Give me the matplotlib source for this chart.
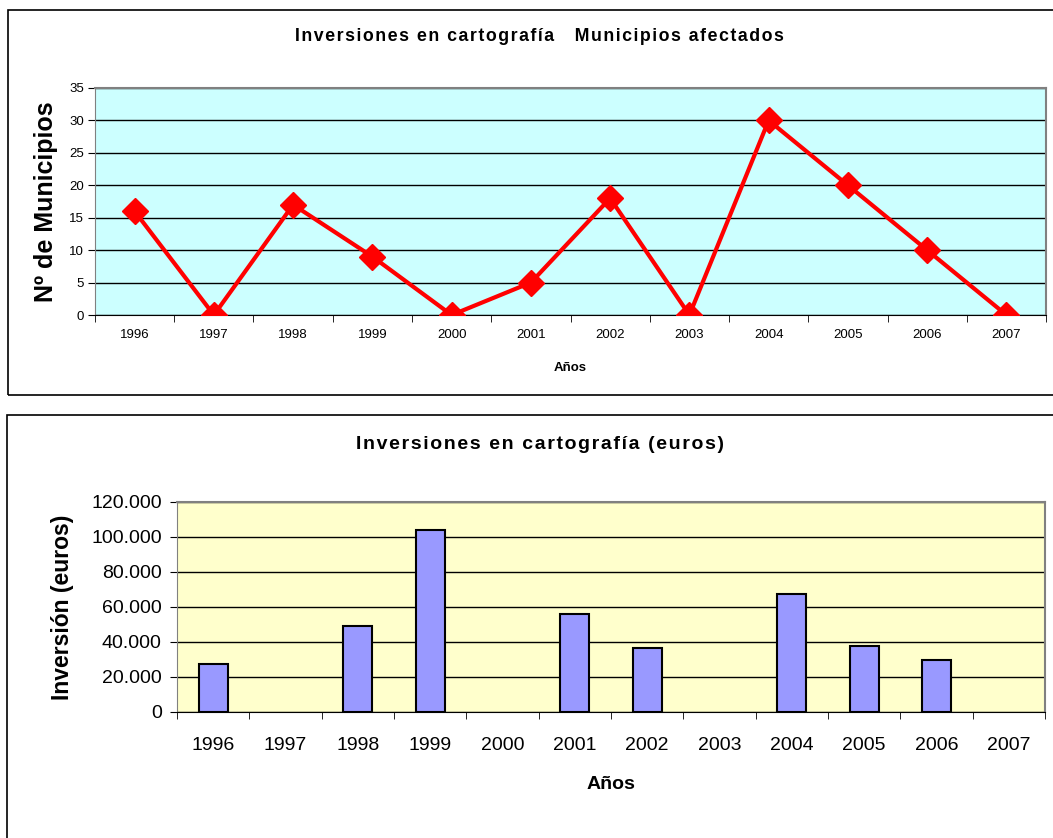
import matplotlib.pyplot as plt
from matplotlib.patches import Rectangle
from matplotlib.ticker import FuncFormatter, FixedLocator, NullFormatter
import numpy as np

plt.rcParams['font.family'] = ['Liberation Sans', 'DejaVu Sans']

# datos
anios = ['1996', '1997', '1998', '1999', '2000', '2001',
         '2002', '2003', '2004', '2005', '2006', '2007']
municipios = [16, 0, 17, 9, 0, 5, 18, 0, 30, 20, 10, 0]
inversion = [27600, 0, 49100, 104000, 0, 56000,
             36700, 0, 67400, 37900, 29900, 0]

fig = plt.figure(figsize=(10.53, 8.38), dpi=100)

# marcos de cada grafico
fig.patches.append(Rectangle((0.0076, 0.5286), 1.1, 0.4594, transform=fig.transFigure,
                             fill=False, edgecolor='black', linewidth=1.2))
fig.patches.append(Rectangle((0.0066, -0.1), 1.1, 0.6048, transform=fig.transFigure,
                             fill=False, edgecolor='black', linewidth=1.2))

x = np.arange(len(anios))

def espaciado(t):
    # separa un poco las letras, como en el original
    return '\u200a'.join(t)

def estilo_ejes(ax, bg):
    ax.set_facecolor(bg)
    ax.set_xlim(-0.5, len(anios) - 0.5)
    ax.xaxis.set_major_locator(FixedLocator(x))
    ax.set_xticklabels(anios)
    ax.tick_params(axis='x', which='major', length=0)
    ax.xaxis.set_minor_locator(FixedLocator(np.arange(-0.5, len(anios), 1)))
    ax.xaxis.set_minor_formatter(NullFormatter())
    ax.tick_params(axis='x', which='minor', length=5, direction='out', color='black')
    ax.tick_params(axis='y', length=5, direction='out')
    ax.grid(axis='y', color='black', linewidth=1)
    ax.set_axisbelow(True)
    for s in ['top', 'right']:
        ax.spines[s].set_color('#808080')
        ax.spines[s].set_linewidth(1.5)
    ax.spines['left'].set_color('#808080')
    ax.spines['bottom'].set_color('black')

# grafico de lineas
ax1 = fig.add_axes([0.0902, 0.6241, 0.9032, 0.2709])
estilo_ejes(ax1, '#CCFFFF')
ax1.plot(x, municipios, color='red', linewidth=3, marker='D', markersize=13, zorder=3)
ax1.set_ylim(0, 35)
ax1.set_yticks(range(0, 36, 5))
ax1.tick_params(axis='y', labelsize=9.5, pad=3)
ax1.tick_params(axis='x', labelsize=9.5, pad=10)
ax1.set_ylabel('Nº de Municipios', fontsize=18, fontweight='bold', labelpad=8)
ax1.set_xlabel('Años', fontsize=9.5, fontweight='bold', labelpad=15)
fig.text(0.512, 0.957, espaciado('Inversiones en cartografía   Municipios afectados'),
         ha='center', va='center', fontsize=12.8, fontweight='bold')

# grafico de barras
ax2 = fig.add_axes([0.1681, 0.1504, 0.8243, 0.2506])
estilo_ejes(ax2, '#FFFFCC')
ax2.bar(x, inversion, width=0.4, color='#9999FF', edgecolor='black',
        linewidth=[1.5 if v > 0 else 0 for v in inversion], zorder=3)
ax2.set_ylim(0, 120000)
ax2.set_yticks(range(0, 120001, 20000))
ax2.yaxis.set_major_formatter(FuncFormatter(lambda v, p: f'{int(v):,}'.replace(',', '.')))
ax2.tick_params(axis='y', labelsize=14, pad=6)
ax2.tick_params(axis='x', labelsize=14, pad=18)
ax2.set_ylabel('Inversión (euros)', fontsize=16.5, fontweight='bold', labelpad=12)
ax2.set_xlabel('Años', fontsize=14, fontweight='bold', labelpad=16)
fig.text(0.513, 0.470, espaciado('Inversiones en cartografía (euros)'),
         ha='center', va='center', fontsize=14, fontweight='bold')

fig.savefig('out.png', dpi=100)
